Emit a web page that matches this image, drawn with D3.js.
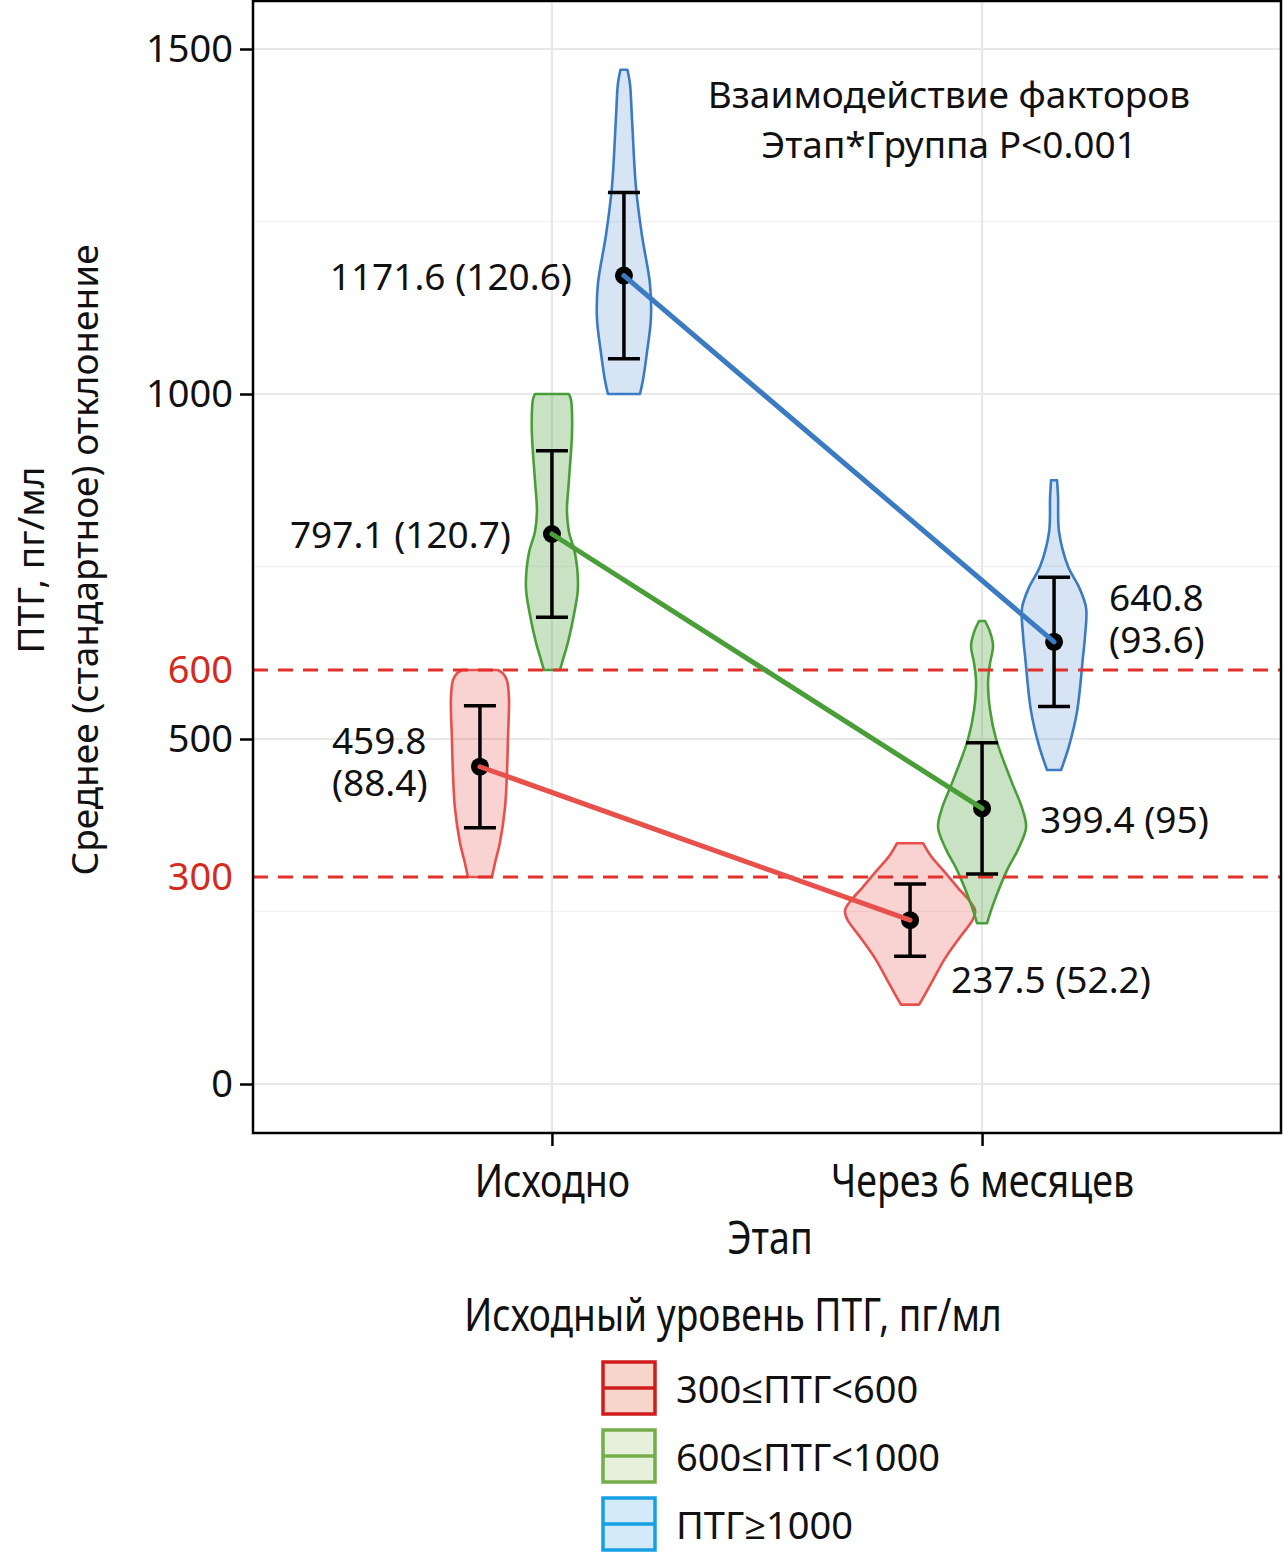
<!DOCTYPE html>
<html>
<head>
<meta charset="utf-8">
<script src="https://cdn.jsdelivr.net/npm/d3@7"></script>
<style>
  body { margin: 0; background: #fff; }
  .reg { font-family: "Noto Sans", "Open Sans", sans-serif; }
  .cond { font-family: "Noto Sans", "Open Sans", sans-serif; }
</style>
</head>
<body>
<div id="chart-area"></div>
<script>
// stages and groups
var stages = ["Исходно", "Через 6 месяцев"];
var groups = ["300≤ПТГ<600", "600≤ПТГ<1000", "ПТГ≥1000"];

// mean and SD per group
var meanBase = [459.8, 797.1, 1171.6];
var sdBase   = [88.4, 120.7, 120.6];
var mean6    = [237.5, 399.4, 640.8];
var sd6      = [52.2, 95, 93.6];

var meanLabels = [
    ["459.8", "(88.4)"], ["797.1 (120.7)"], ["1171.6 (120.6)"],
    ["237.5 (52.2)"], ["399.4 (95)"], ["640.8", "(93.6)"]
];

// violin profiles: [value, relative density]
var violinRedBase = [[300,0.12],[320,0.15],[350,0.20],[400,0.25],[450,0.27],[500,0.28],[560,0.29],[585,0.27],[595,0.23],[600,0.18]];
var violinGreenBase = [[600,0.08],[620,0.12],[640,0.16],[680,0.22],[720,0.26],[770,0.23],[800,0.17],[830,0.15],[875,0.17],[940,0.20],[975,0.20],[992,0.19],[1000,0.17]];
var violinBlueBase = [[1000,0.16],[1020,0.19],[1060,0.23],[1110,0.27],[1160,0.26],[1230,0.18],[1300,0.12],[1400,0.08],[1450,0.06],[1470,0.035]];
var violinRed6 = [[115,0.09],[130,0.15],[151,0.23],[182,0.35],[213,0.50],[239,0.63],[252,0.65],[268,0.58],[284,0.48],[310,0.33],[330,0.21],[349,0.13]];
var violinGreen6 = [[233,0.05],[260,0.11],[310,0.25],[340,0.36],[372,0.44],[400,0.40],[440,0.29],[500,0.14],[542,0.08],[583,0.06],[610,0.08],[635,0.11],[655,0.08],[671,0.03]];
var violinBlue6 = [[455,0.07],[490,0.15],[540,0.23],[620,0.29],[650,0.31],[690,0.32],[720,0.25],[750,0.14],[800,0.05],[850,0.04],[875,0.03]];

var violinsBase = [violinRedBase, violinGreenBase, violinBlueBase];
var violins6 = [violinRed6, violinGreen6, violinBlue6];

var yMajor = [0, 500, 1000, 1500];
var yMinor = [250, 750, 1250];
var yLimits = [300, 600];

// styles
var lineColors   = ["#e8504c", "#4a9e38", "#3a7bc2"];
var violinFill   = ["#e8605c", "#4c9e3c", "#5b95d4"];
var fillOpacity  = [0.28, 0.3, 0.25];
var keyStroke    = ["#d01c1c", "#74ad4a", "#16a0e4"];
var keyFill      = ["#f8d5cb", "#e7f0dd", "#d4eaf9"];
var narrow = "scale(0.835,1)";

// label offsets from the violin centre: [dx, dy, anchor]
var labelLayout = [
    [-148, -13, "start"], [-41, 14, "end"], [-52, 14, "end"],
    [41, 73, "start"], [58, 25, "start"], [55, -31, "start"]
];

var W = 1284, H = 1555;
var plot = { left: 253, right: 1281, top: 1, bottom: 1133 };

var svg = d3.select("#chart-area").append("svg")
    .attr("width", W).attr("height", H);

var x = d3.scalePoint().domain(stages).range([plot.left, plot.right]).padding(0.695);
var dodge = d3.scaleBand().domain(groups).range([-108, 108]);
var y = d3.scaleLinear().domain([0, 1500]).range([1084, 49]);
var wScale = d3.scaleLinear().domain([0, 1]).range([0, 100]);

function cx(stage, gi) {
    return x(stage) + dodge(groups[gi]) + dodge.bandwidth() / 2;
}

// grid
var grid = svg.append("g");
grid.selectAll(".minor").data(yMinor).enter().append("line")
    .attr("x1", plot.left).attr("x2", plot.right)
    .attr("y1", d => y(d)).attr("y2", d => y(d))
    .attr("stroke", "#f2f2f2").attr("stroke-width", 1.5);
grid.selectAll(".major").data(yMajor).enter().append("line")
    .attr("x1", plot.left).attr("x2", plot.right)
    .attr("y1", d => y(d)).attr("y2", d => y(d))
    .attr("stroke", "#e8e8e8").attr("stroke-width", 2.2);
grid.selectAll(".vert").data(stages).enter().append("line")
    .attr("x1", d => x(d)).attr("x2", d => x(d))
    .attr("y1", plot.top).attr("y2", plot.bottom)
    .attr("stroke", "#e8e8e8").attr("stroke-width", 2.2);

// violins
var area = d3.area()
    .curve(d3.curveCatmullRom)
    .y(d => y(d[0]));

function drawViolin(prof, stage, gi) {
    var c = cx(stage, gi);
    area.x0(d => c - wScale(d[1])).x1(d => c + wScale(d[1]));
    svg.append("path")
        .attr("d", area(prof))
        .attr("fill", violinFill[gi])
        .attr("fill-opacity", fillOpacity[gi])
        .attr("stroke", lineColors[gi])
        .attr("stroke-width", 2.6)
        .attr("stroke-linejoin", "round");
}
violinsBase.forEach((p, i) => drawViolin(p, stages[0], i));
violins6.forEach((p, i) => drawViolin(p, stages[1], i));

// reference lines at 300 and 600
svg.selectAll(".limit").data(yLimits).enter().append("line")
    .attr("x1", plot.left).attr("x2", plot.right)
    .attr("y1", d => y(d)).attr("y2", d => y(d))
    .attr("stroke", "#e2302a").attr("stroke-width", 3)
    .attr("stroke-dasharray", "15,10");

// error bars and means
var points = [];
stages.forEach(function(s, si) {
    var m = si === 0 ? meanBase : mean6;
    var sd = si === 0 ? sdBase : sd6;
    groups.forEach(function(g, gi) {
        points.push({ x: cx(s, gi), mean: m[gi], sd: sd[gi], gi: gi, si: si });
    });
});

var eb = svg.append("g").attr("stroke", "#000").attr("stroke-width", 3.5);
points.forEach(function(p) {
    eb.append("line").attr("x1", p.x).attr("x2", p.x)
        .attr("y1", y(p.mean - p.sd)).attr("y2", y(p.mean + p.sd));
    [p.mean - p.sd, p.mean + p.sd].forEach(function(v) {
        eb.append("line").attr("x1", p.x - 16).attr("x2", p.x + 16)
            .attr("y1", y(v)).attr("y2", y(v));
    });
});
svg.selectAll(".mean").data(points).enter().append("circle")
    .attr("cx", d => d.x).attr("cy", d => y(d.mean)).attr("r", 9)
    .attr("fill", "#000");

// connecting lines
var line = d3.line().x(d => d.x).y(d => y(d.mean));
groups.forEach(function(g, gi) {
    svg.append("path")
        .attr("d", line(points.filter(p => p.gi === gi)))
        .attr("fill", "none")
        .attr("stroke", lineColors[gi])
        .attr("stroke-width", 5)
        .attr("stroke-linecap", "round");
});

// mean labels
points.forEach(function(p, i) {
    var idx = p.si * 3 + p.gi;
    var lay = labelLayout[idx];
    var t = svg.append("text").attr("class", "reg")
        .attr("font-size", 37).attr("fill", "#111")
        .attr("text-anchor", lay[2]);
    meanLabels[idx].forEach(function(s, k) {
        t.append("tspan").attr("x", p.x + lay[0])
            .attr("y", y(p.mean) + lay[1] + k * 42).text(s);
    });
});

// annotation
var ann = svg.append("text").attr("class", "reg").attr("font-size", 37)
    .attr("text-anchor", "middle").attr("fill", "#111");
ann.append("tspan").attr("x", 949).attr("y", 108).text("Взаимодействие факторов");
ann.append("tspan").attr("x", 949).attr("y", 158).text("Этап*Группа P<0.001");

// frame
svg.append("rect")
    .attr("x", plot.left).attr("y", plot.top)
    .attr("width", plot.right - plot.left).attr("height", plot.bottom - plot.top)
    .attr("fill", "none").attr("stroke", "#000").attr("stroke-width", 2.5);

// y axis
var yAxis = svg.append("g")
    .attr("transform", "translate(" + plot.left + ",0)")
    .call(d3.axisLeft(y).tickValues(yMajor).tickFormat(d3.format("d")).tickSize(13).tickPadding(7));
yAxis.select(".domain").remove();
yAxis.selectAll("line").attr("stroke", "#000").attr("stroke-width", 2.5);
yAxis.selectAll("text").attr("class", "reg").attr("font-size", 38).attr("fill", "#111");

var yAxisRed = svg.append("g")
    .attr("transform", "translate(" + plot.left + ",0)")
    .call(d3.axisLeft(y).tickValues(yLimits).tickFormat(d3.format("d")).tickSize(0).tickPadding(20));
yAxisRed.select(".domain").remove();
yAxisRed.selectAll("text").attr("class", "reg").attr("font-size", 38).attr("fill", "#d42a20");

// x axis
var xAxis = svg.append("g")
    .attr("transform", "translate(0," + plot.bottom + ")")
    .call(d3.axisBottom(x).tickSize(13));
xAxis.select(".domain").remove();
xAxis.selectAll("line").attr("stroke", "#000").attr("stroke-width", 2.5);
xAxis.selectAll("text").attr("class", "cond").attr("font-size", 45)
    .attr("fill", "#111").attr("y", 64).attr("dy", null)
    .attr("transform", narrow);

// axis titles
svg.append("g").attr("transform", "translate(770,1254)")
    .append("text").attr("class", "cond").attr("font-size", 45)
    .attr("text-anchor", "middle").attr("transform", narrow)
    .attr("fill", "#111").text("Этап");

var yt = svg.append("text").attr("class", "reg").attr("font-size", 37)
    .attr("text-anchor", "middle").attr("fill", "#111")
    .attr("transform", "translate(0,560) rotate(-90)");
yt.append("tspan").attr("x", 0).attr("y", 44).text("ПТГ, пг/мл");
yt.append("tspan").attr("x", 0).attr("y", 98).text("Среднее (стандартное) отклонение");

// legend
svg.append("g").attr("transform", "translate(733,1331)")
    .append("text").attr("class", "cond").attr("font-size", 45)
    .attr("text-anchor", "middle").attr("transform", "scale(0.825,1)")
    .attr("fill", "#111").text("Исходный уровень ПТГ, пг/мл");

var legend = svg.append("g").attr("transform", "translate(603,1362)");
var keys = legend.selectAll(".key").data(groups).enter().append("g")
    .attr("transform", (d, i) => "translate(0," + i * 68 + ")");
keys.append("rect").attr("width", 52).attr("height", 52)
    .attr("fill", (d, i) => keyFill[i]).attr("stroke", (d, i) => keyStroke[i])
    .attr("stroke-width", 3.5);
keys.append("line").attr("x1", 0).attr("x2", 52).attr("y1", 26).attr("y2", 26)
    .attr("stroke", (d, i) => keyStroke[i]).attr("stroke-width", 3.5);
keys.append("text").attr("class", "reg").attr("font-size", 38)
    .attr("x", 73).attr("y", 41).attr("fill", "#111").text(d => d);
</script>
</body>
</html>
